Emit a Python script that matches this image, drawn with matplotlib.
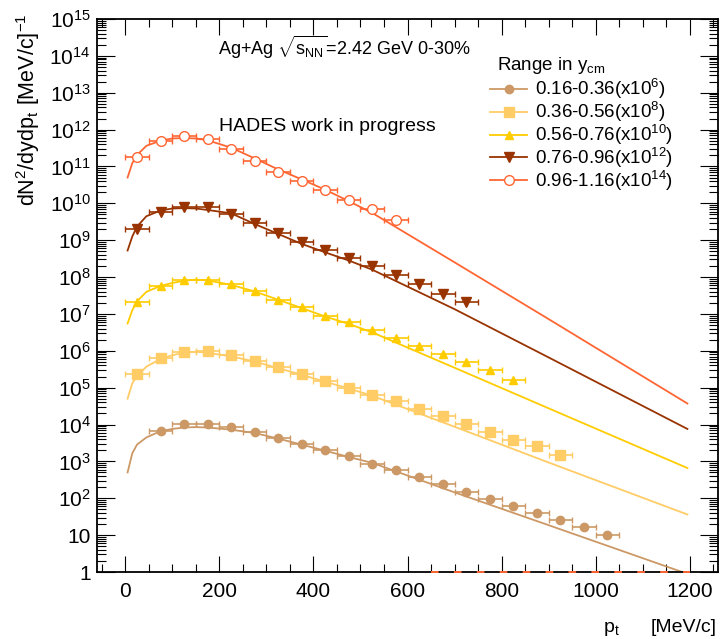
import numpy as np
import matplotlib
matplotlib.use("Agg")
import matplotlib.pyplot as plt
from matplotlib.lines import Line2D
from matplotlib.ticker import FixedLocator, LogLocator, NullFormatter, FuncFormatter

plt.rcParams['font.family'] = ['Liberation Sans', 'DejaVu Sans']
plt.rcParams['mathtext.fontset'] = 'custom'
plt.rcParams['mathtext.rm'] = 'Liberation Sans'
plt.rcParams['mathtext.it'] = 'Liberation Sans'
plt.rcParams['mathtext.bf'] = 'Liberation Sans:bold'
plt.rcParams['mathtext.sf'] = 'Liberation Sans'
plt.rcParams['lines.scale_dashes'] = False

# ---------------- data ----------------
# bin half width of the pt bins (MeV/c)
bin_half_width = 25

# y_cm 0.16-0.36 (x10^6)
pt_1 = [75, 125, 175, 225, 275, 325, 375, 425, 475, 525, 575, 625, 675, 725,
        775, 825, 875, 925, 975, 1025]
yield_1 = [6.8e3, 1.06e4, 1.06e4, 8.4e3, 6.3e3, 4.3e3, 3.0e3, 2.09e3, 1.37e3,
           870, 570, 370, 245, 152, 98, 63, 40, 25, 16.3, 10.4]

# y_cm 0.36-0.56 (x10^8)
pt_2 = [25, 75, 125, 175, 225, 275, 325, 375, 425, 475, 525, 575, 625, 675,
        725, 775, 825, 875, 925]
yield_2 = [2.35e5, 6.3e5, 9.5e5, 9.6e5, 7.8e5, 5.4e5, 3.64e5, 2.4e5, 1.55e5,
           9.8e4, 6.5e4, 4.25e4, 2.7e4, 1.67e4, 1.04e4, 6.1e3, 3.9e3, 2.57e3,
           1.5e3]

# y_cm 0.56-0.76 (x10^10)
pt_3 = [25, 75, 125, 175, 225, 275, 325, 375, 425, 475, 525, 575, 625, 675,
        725, 775, 825]
yield_3 = [2.14e7, 5.8e7, 8.1e7, 8.2e7, 6.6e7, 4.07e7, 2.4e7, 1.54e7, 8.9e6,
           5.9e6, 3.7e6, 2.2e6, 1.37e6, 8.3e5, 4.85e5, 2.94e5, 1.65e5]

# y_cm 0.76-0.96 (x10^12)
pt_4 = [25, 75, 125, 175, 225, 275, 325, 375, 425, 475, 525, 575, 625, 675,
        725]
yield_4 = [2.0e9, 5.8e9, 7.9e9, 7.9e9, 5.2e9, 2.9e9, 1.56e9, 9.2e8, 5.3e8,
           3.3e8, 1.94e8, 1.15e8, 6.5e7, 3.5e7, 2.05e7]

# y_cm 0.96-1.16 (x10^14)
pt_5 = [25, 75, 125, 175, 225, 275, 325, 375, 425, 475, 525, 575]
yield_5 = [1.8e11, 4.9e11, 6.5e11, 5.5e11, 3.0e11, 1.4e11, 7.3e10, 4.1e10,
           2.3e10, 1.25e10, 6.9e9, 3.6e9]

# fitted functions, sampled in pt, stored as log10 of the yield
fit_pt = [5, 15, 25, 45, 75, 100, 125, 150, 175, 225, 275, 325, 375, 425,
          475, 525, 700, 900, 1195]
fit_log_1 = [2.70, 3.22, 3.455, 3.65, 3.82, 3.88, 3.92, 3.93, 3.92, 3.86,
             3.77, 3.62, 3.455, 3.29, 3.12, 2.96, 2.16, 1.27, -0.05]
fit_log_2 = [4.70, 5.12, 5.31, 5.57, 5.78, 5.88, 5.95, 5.975, 5.945, 5.85,
             5.71, 5.53, 5.35, 5.16, 4.98, 4.78, 3.94, 2.97, 1.56]
fit_log_3 = [6.74, 7.10, 7.34, 7.60, 7.76, 7.84, 7.90, 7.93, 7.91, 7.79,
             7.61, 7.385, 7.16, 6.93, 6.73, 6.50, 5.54, 4.44, 2.82]
fit_log_4 = [8.72, 9.10, 9.37, 9.65, 9.805, 9.86, 9.87, 9.86, 9.82, 9.73,
             9.44, 9.17, 8.90, 8.67, 8.45, 8.20, 7.13, 5.82, 3.88]
fit_log_5 = [10.70, 11.09, 11.31, 11.56, 11.70, 11.76, 11.77, 11.76, 11.71,
             11.51, 11.22, 10.92, 10.65, 10.37, 10.06, 9.74, 8.40, 6.86, 4.57]

labels = ['0.16-0.36(x10$^{6}$)', '0.36-0.56(x10$^{8}$)',
          '0.56-0.76(x10$^{10}$)', '0.76-0.96(x10$^{12}$)',
          '0.96-1.16(x10$^{14}$)']

# dashed segment lying on the lower axis edge
dash_pt = [650, 1200]
dash_level = [1, 1]

x_major = [0, 200, 400, 600, 800, 1000, 1200]

# ---------------- style ----------------
colors = ['#CC9966', '#FFCC66', '#FFCC00', '#993300', '#FF6633']
markers = ['o', 's', '^', 'v', 'o']
face = ['#CC9966', '#FFCC66', '#FFCC00', '#993300', 'white']
msizes = [6.0, 6.5, 6.0, 6.5, 7.0]

W, H = 721, 639
fig = plt.figure(figsize=(W / 100, H / 100), dpi=100)
L, R, T, B = 97, 718, 19, 572
ax = fig.add_axes([L / W, 1 - B / H, (R - L) / W, (B - T) / H])

series = [(pt_1, yield_1, fit_log_1), (pt_2, yield_2, fit_log_2),
          (pt_3, yield_3, fit_log_3), (pt_4, yield_4, fit_log_4),
          (pt_5, yield_5, fit_log_5)]

for i, (px, py, fl) in enumerate(series):
    ax.plot(fit_pt, 10 ** np.array(fl), color=colors[i], lw=1.3, zorder=2)
    ax.errorbar(px, py, xerr=bin_half_width, fmt=markers[i], color=colors[i],
                mfc=face[i], mec=colors[i], mew=1.0, ms=msizes[i],
                elinewidth=1.2, capsize=2.5, capthick=1.2, zorder=3)

ax.plot(dash_pt, dash_level, color='#FF6633', lw=1.4, ls=(0, (5.5, 11)),
        clip_on=False, zorder=6)

ax.set_yscale('log')
ax.set_ylim(1, 1e15)
ax.set_xlim(-60, 1260)

ax.xaxis.set_major_locator(FixedLocator(x_major))
ax.xaxis.set_minor_locator(FixedLocator(np.arange(-50, 1260, 50)))
ax.yaxis.set_major_locator(LogLocator(base=10, numticks=20))
ax.yaxis.set_minor_locator(LogLocator(base=10, subs=np.arange(2, 10), numticks=200))
ax.yaxis.set_minor_formatter(NullFormatter())


def ylab(v, pos):
    e = int(round(np.log10(v)))
    if e == 0:
        return '1'
    if e == 1:
        return '10'
    return r'$10^{%d}$' % e


ax.yaxis.set_major_formatter(FuncFormatter(ylab))
ax.xaxis.set_major_formatter(FuncFormatter(lambda v, p: '%d' % v))

ax.tick_params(which='both', direction='in', top=True, right=True,
               labelsize=15, width=0.8, color='black')
ax.tick_params(axis='y', which='major', length=13, pad=4.5)
ax.tick_params(axis='y', which='minor', length=6.5)
ax.tick_params(axis='x', which='major', length=11.5, pad=7)
ax.tick_params(axis='x', which='minor', length=5.8)
for s in ax.spines.values():
    s.set_linewidth(1.3)

# axis titles (quantity and unit placed separately)
fig.text(35 / W, 1 - 206 / H, r'dN$^{2}$/dydp$_{t}$', rotation=90,
         rotation_mode='anchor', ha='left', va='baseline', fontsize=15.5)
fig.text(35 / W, 1 - 13 / H, r'[MeV/c]$^{-1}$', rotation=90,
         rotation_mode='anchor', ha='right', va='baseline', fontsize=15.5)
fig.text(603 / W, 1 - 632 / H, r'p$_{t}$', ha='left', va='baseline',
         fontsize=14)
fig.text(717 / W, 1 - 632 / H, '[MeV/c]', ha='right', va='baseline',
         fontsize=14)

# annotations
fig.text(218 / W, 1 - 55 / H, r'Ag+Ag $\sqrt{s_{NN}}$=2.42 GeV 0-30%',
         ha='left', va='baseline', fontsize=13)
fig.text(219 / W, 1 - 131 / H, 'HADES work in progress',
         ha='left', va='baseline', fontsize=14)

# legend
fig.text(497 / W, 1 - 70 / H, r'Range in y$_{cm}$', ha='left',
         va='baseline', fontsize=13.5)
row0, dy = 88.7, 22.9
for i in range(5):
    yc = 1 - (row0 + i * dy) / H
    fig.add_artist(Line2D([490 / W, 527 / W], [yc, yc], color=colors[i],
                          lw=1.3, transform=fig.transFigure))
    fig.add_artist(Line2D([509 / W], [yc], marker=markers[i], ms=msizes[i],
                          color=colors[i], mfc=face[i], mec=colors[i],
                          mew=1.0, transform=fig.transFigure))
    fig.text(535 / W, yc - 6.6 / H, labels[i], ha='left', va='baseline',
             fontsize=13.5)

fig.savefig('out.png', dpi=100)
